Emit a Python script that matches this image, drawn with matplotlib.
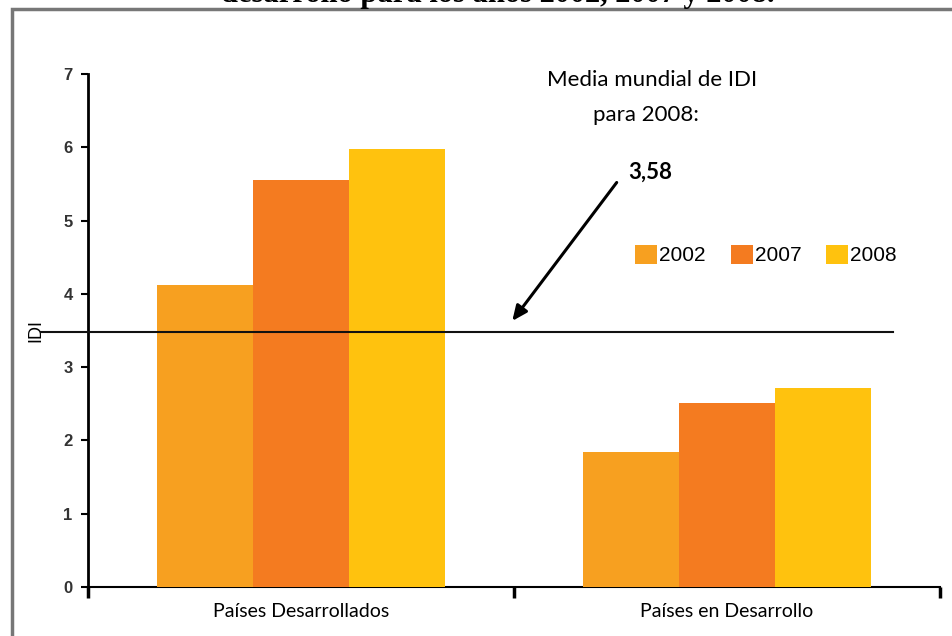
import matplotlib
matplotlib.use("Agg")
import matplotlib.pyplot as plt
from matplotlib.patches import Rectangle
import numpy as np

categories = ["Países Desarrollados", "Países en Desarrollo"]
years = ["2002", "2007", "2008"]
values = {
    "2002": [4.12, 1.84],
    "2007": [5.55, 2.51],
    "2008": [5.98, 2.71],
}
colors = {"2002": "#F7A020", "2007": "#F47B20", "2008": "#FFC20E"}
mean_line = 3.48
mean_label = "3,58"
title_text = "desarrollo para los años 2002, 2007 y 2008."

fig = plt.figure(figsize=(9.52, 6.36), dpi=100)
ax = fig.add_axes([88/952, 49/636, 852/952, 513/636])

x = np.arange(len(categories))
w = 0.225
for i, y in enumerate(years):
    ax.bar(x + (i - 1) * w, values[y], width=w, color=colors[y], label=y,
           zorder=3, linewidth=0)

ax.set_xlim(-0.5, 1.5)
ax.set_ylim(0, 7)
ax.set_yticks(range(0, 8))
ax.set_yticklabels([str(v) for v in range(0, 8)], family="Liberation Sans",
                   fontweight="bold")
ax.tick_params(axis="y", direction="out", length=5, width=1.5, labelsize=12,
               pad=6, labelcolor="#333333")
ax.set_xticks([-0.5, 0.5, 1.5])
ax.set_xticklabels([])
ax.tick_params(axis="x", direction="out", length=8, width=2.5)
for xi, c in zip(x, categories):
    ax.text(xi, -0.34, c, ha="center", va="center", fontsize=14,
            family="Lato", transform=ax.transData)
for s in ["top", "right"]:
    ax.spines[s].set_visible(False)
ax.spines["left"].set_linewidth(2)
ax.spines["bottom"].set_linewidth(1.5)
ax.set_ylabel("IDI", fontsize=13, labelpad=14, family="Liberation Sans")

# mean line
ax.plot([-0.61, 1.39], [mean_line, mean_line], color="#111111", lw=1.5,
        clip_on=False, zorder=4)
ax.annotate("", xy=(0.492, mean_line + 0.12), xytext=(0.745, 5.55),
            arrowprops=dict(arrowstyle="-|>,head_length=0.9,head_width=0.4",
                            color="black", lw=2.2))
ax.text(0.824, 6.92, "Media mundial de IDI", ha="center", va="center",
        fontsize=16, family="Lato")
ax.text(0.81, 6.44, "para 2008:", ha="center", va="center",
        fontsize=16, family="Lato")
ax.text(0.82, 5.66, mean_label, ha="center", va="center", fontsize=16,
        family="Lato", fontweight="bold")

leg = ax.legend(loc="center", bbox_to_anchor=(0.796, 0.647), ncol=3,
                frameon=False, prop={"family": "Liberation Sans", "size": 15},
                handlelength=1.05, handleheight=1.05, handletextpad=0.1,
                columnspacing=1.2, borderaxespad=0)

# frame border and cut title
fig.patches.append(Rectangle((12/952, -0.1), 1.2, 1 - 9/636 + 0.1,
                             transform=fig.transFigure, fill=False,
                             edgecolor="#777777", lw=2.5))
fig.text(498/952, 1 - 2/636, title_text, ha="center", va="baseline",
         fontsize=22, family="Liberation Serif", fontweight="bold")

fig.savefig("out.png", dpi=100)
